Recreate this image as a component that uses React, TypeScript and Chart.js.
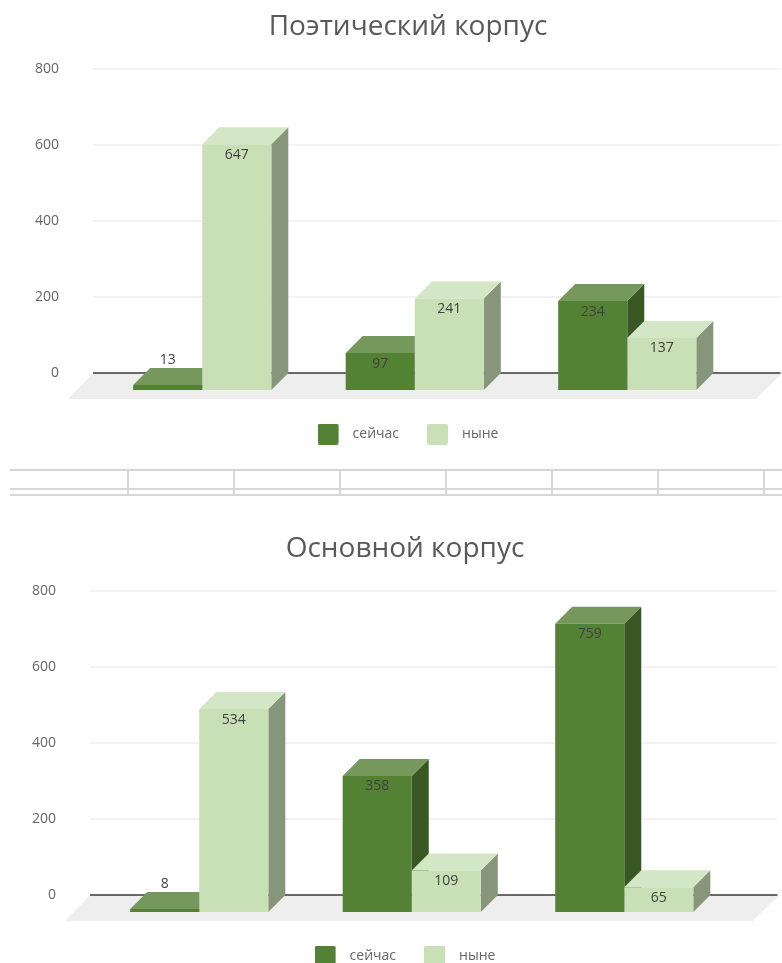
import React, { useEffect, useRef } from "react";
import { Chart, registerables } from "chart.js";

Chart.register(...registerables);

const categories = ["1", "2", "3"];
const seriesNames = ["сейчас", "ныне"];
const yTicks = [0, 200, 400, 600, 800];
const poetryNow = [13, 97, 234];
const poetryThen = [647, 241, 137];
const mainNow = [8, 358, 759];
const mainThen = [534, 109, 65];

const FONT = '"Open Sans", "Noto Sans", sans-serif';
const DEPTH = 17;
const DARK = { front: "#548235", top: "#76985c", side: "#385723" };
const LIGHT = { front: "#c9e0b7", top: "#d3e6c6", side: "#87967a" };

function swatch(color: string) {
  const c = document.createElement("canvas");
  c.width = 28;
  c.height = 21;
  const g = c.getContext("2d")!;
  g.fillStyle = color;
  g.beginPath();
  g.roundRect(0, 0, 21, 21, 2);
  g.fill();
  return c;
}

function poly(ctx: CanvasRenderingContext2D, pts: number[][], fill: string) {
  ctx.fillStyle = fill;
  ctx.beginPath();
  pts.forEach((p, i) => (i ? ctx.lineTo(p[0], p[1]) : ctx.moveTo(p[0], p[1])));
  ctx.closePath();
  ctx.fill();
}

const depthPlugin = {
  id: "depth",
  beforeDatasetsDraw(chart: any) {
    const { ctx, chartArea: a, scales } = chart;
    const y0 = scales.y.getPixelForValue(0);
    ctx.save();
    // floor
    poly(ctx, [[a.left - 28, a.bottom], [a.right + 22, a.bottom], [a.right + 49, y0], [a.left - 3, y0]], "#eeeeee");
    // grid lines on the back wall
    yTicks.forEach((v) => {
      const py = scales.y.getPixelForValue(v);
      ctx.strokeStyle = v === 0 ? "#3a3a3a" : "#f3f3f3";
      ctx.lineWidth = v === 0 ? 1.5 : 2;
      ctx.beginPath();
      ctx.moveTo(a.left - 3, py);
      ctx.lineTo(a.right + 47, py);
      ctx.stroke();
    });
    // extruded faces, painted left to right
    const m0 = chart.getDatasetMeta(0).data;
    const m1 = chart.getDatasetMeta(1).data;
    categories.forEach((_, i) => {
      [[m0[i], DARK], [m1[i], LIGHT]].forEach(([bar, col]: any) => {
        const l = bar.x - bar.width / 2;
        const r = bar.x + bar.width / 2;
        const t = bar.y;
        const b = bar.base;
        poly(ctx, [[r, t], [r + DEPTH, t - DEPTH], [r + DEPTH, b - DEPTH], [r, b]], col.side);
        poly(ctx, [[l, t], [r, t], [r + DEPTH, t - DEPTH], [l + DEPTH, t - DEPTH]], col.top);
      });
    });
    ctx.restore();
  },
  afterDatasetsDraw(chart: any) {
    const { ctx } = chart;
    ctx.save();
    ctx.font = `14px ${FONT}`;
    ctx.textAlign = "center";
    ctx.textBaseline = "middle";
    chart.data.datasets.forEach((ds: any, d: number) => {
      chart.getDatasetMeta(d).data.forEach((bar: any, i: number) => {
        const text = String(ds.data[i]);
        const small = bar.base - bar.y < 20;
        const py = small ? bar.y - 25 : bar.y + 10.5;
        if (small) {
          ctx.strokeStyle = "#ffffff";
          ctx.lineWidth = 3;
          ctx.strokeText(text, bar.x, py);
        }
        ctx.fillStyle = "#404040";
        ctx.fillText(text, bar.x, py);
      });
    });
    ctx.restore();
  },
};

function Bar3D({ title, now, then, top, left }: any) {
  const ref = useRef<HTMLCanvasElement>(null);
  useEffect(() => {
    const chart = new Chart(ref.current!, {
      type: "bar",
      data: {
        labels: categories,
        datasets: [
          { label: seriesNames[0], data: now, backgroundColor: DARK.front, yAxisID: "yFront", categoryPercentage: 0.65, barPercentage: 1 },
          { label: seriesNames[1], data: then, backgroundColor: LIGHT.front, yAxisID: "yFront", categoryPercentage: 0.65, barPercentage: 1 },
        ],
      },
      options: {
        responsive: false,
        animation: false,
        devicePixelRatio: 1,
        layout: { padding: { left: 34, right: 0, top: 0, bottom: 0 } },
        plugins: {
          tooltip: { enabled: false },
          title: {
            display: true,
            text: title,
            color: "#595959",
            font: { family: FONT, size: 28, weight: "normal" },
            padding: { top: 10.2, bottom: 25.2 },
          },
          legend: {
            position: "bottom",
            labels: {
              color: "#666666",
              font: { family: FONT, size: 14 },
              usePointStyle: true,
              pointStyleWidth: 28,
              padding: 28,
              generateLabels: () =>
                seriesNames.map((name, i) => ({
                  text: name,
                  pointStyle: swatch(i === 0 ? DARK.front : LIGHT.front),
                  fontColor: "#666666",
                  lineWidth: 0,
                  hidden: false,
                  datasetIndex: i,
                })),
            },
          },
        },
        scales: {
          x: { display: false, grid: { display: false } },
          y: {
            position: "left",
            min: -68.65,
            max: 800,
            grid: { display: false },
            border: { display: false },
            afterBuildTicks: (s: any) => {
              s.ticks = yTicks.map((value) => ({ value }));
            },
            afterFit: (s: any) => {
              s.width = 62;
            },
            ticks: {
              color: "#666666",
              padding: 29,
              font: { family: FONT, size: 14 },
              autoSkip: false,
            },
          },
          yFront: {
            position: "right",
            min: -23.76,
            max: 844.89,
            grid: { display: false },
            border: { display: false },
            ticks: { display: false },
            afterFit: (s: any) => {
              s.width = 48.5;
            },
          },
        },
      } as any,
      plugins: [depthPlugin],
    } as any);
    return () => chart.destroy();
  }, []);
  return (
    <canvas
      ref={ref}
      width={782}
      height={451}
      style={{ position: "absolute", top, left, width: 782, height: 451, display: "block" }}
    />
  );
}

const ruleRows = [470, 489, 495];
const ruleCols = [128, 234, 340, 446, 552, 658, 764];

export default function App() {
  useEffect(() => {
    document.body.style.margin = "0";
    document.body.style.background = "#ffffff";
  }, []);
  return (
    <div style={{ position: "absolute", top: 0, left: 0, width: 782, height: 963, overflow: "hidden", background: "#fff" }}>
      <Bar3D title="Поэтический корпус" now={poetryNow} then={poetryThen} top={0} left={0} />
      {ruleRows.map((y) => (
        <div key={y} style={{ position: "absolute", left: 10, right: 0, top: y - 1, height: 2, background: "#d6d6d6" }} />
      ))}
      {ruleCols.map((x) => (
        <div key={x} style={{ position: "absolute", left: x - 1, top: 470, width: 2, height: 26, background: "#d6d6d6" }} />
      ))}
      <Bar3D title="Основной корпус" now={mainNow} then={mainThen} top={522} left={-3.5} />
    </div>
  );
}
